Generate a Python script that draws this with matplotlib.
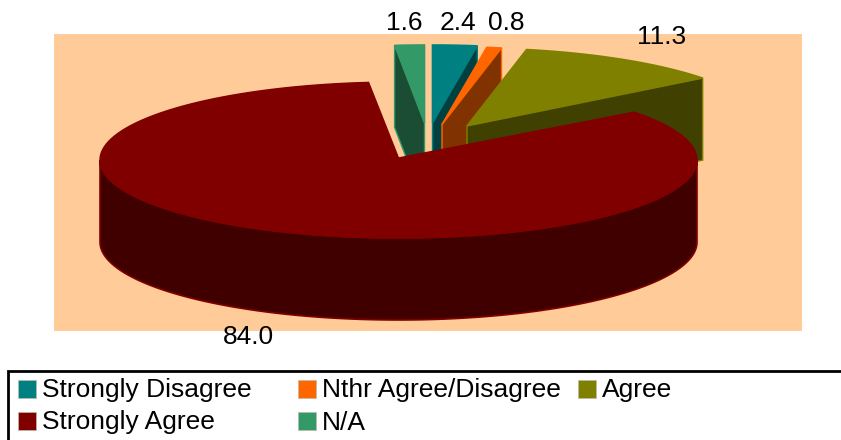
import numpy as np
import matplotlib
matplotlib.use('Agg')
import matplotlib.pyplot as plt
from matplotlib.patches import Polygon, Rectangle

# Survey responses in percent, clockwise from twelve o'clock
categories = ['Strongly Disagree', 'Nthr Agree/Disagree', 'Agree', 'Strongly Agree', 'N/A']
values = [2.4, 0.8, 11.3, 84.0, 1.6]
value_labels = ['2.4', '0.8', '11.3', '84.0', '1.6']

# Colours for the top of each slice and for its darker walls
colors = ['#008080', '#FF6600', '#808000', '#800000', '#339966']
dark_colors = ['#004040', '#803300', '#404000', '#400000', '#1A4D33']

# Pie geometry, in pixels
cx, cy = 398.5, 160
rx, ry = 298.5, 78
depth = 82
# How far each slice is pulled away from the centre
shifts = [(34, -37), (43.5, -35.5), (68.5, -34), (0, -2), (26, -37)]
label_pos = [(458, 22.5), (506, 22.5), (661.5, 36.5), (248.5, 336.5), (404, 22.5)]

plt.rcParams['font.family'] = ['Liberation Sans', 'DejaVu Sans']
font_size = 19

fig = plt.figure(figsize=(8.41, 4.40), dpi=100)
ax = fig.add_axes([0, 0, 1, 1])
ax.set_xlim(0, 841)
ax.set_ylim(440, 0)
ax.axis('off')

# Plot area background
ax.add_patch(Rectangle((54, 34), 748, 297, facecolor='#FFCC99', edgecolor='none', zorder=1))


def arc(x0, y0, a0, a1, dy=0):
    # Angles run clockwise from north, in degrees
    t = np.radians(np.linspace(a0, a1, 200))
    return np.column_stack([x0 + rx * np.sin(t), y0 - ry * np.cos(t) + dy])


# Slice angles from the values
total = sum(values)
edges = np.concatenate([[0], np.cumsum(values)]) / total * 360

# Small exploded slices first, the big one goes over them
order = [4, 0, 1, 2, 3]
z = 2
for i in order:
    a0, a1 = edges[i], edges[i + 1]
    x0, y0 = cx + shifts[i][0], cy + shifts[i][1]
    if i != 3:
        rim = arc(x0, y0, a0, a1)
        # Cut wall: the left one for N/A, the right one otherwise
        if i == 4:
            p = rim[0]
        else:
            p = rim[-1]
        wall = [(x0, y0), tuple(p), (p[0], p[1] + depth), (x0, y0 + depth)]
        ax.add_patch(Polygon(rim.tolist() + [[x0, y0]], closed=True, facecolor=colors[i],
                             edgecolor=colors[i], linewidth=1.2, zorder=z))
        ax.add_patch(Polygon(wall, closed=True, facecolor=dark_colors[i],
                             edgecolor=colors[i], linewidth=1.0, zorder=z + 0.5))
    else:
        # Front wall of the big slice, then its top with the apex just above the ellipse centre
        rim = arc(cx, cy, a0, a1)
        front = arc(cx, cy, 90, 270)
        back = arc(cx, cy, 270, 90, dy=depth)
        ax.add_patch(Polygon(np.vstack([front, back]), closed=True, facecolor=dark_colors[i],
                             edgecolor=colors[i], linewidth=1.2, zorder=z))
        ax.add_patch(Polygon(np.vstack([[[x0, y0]], rim]), closed=True, facecolor=colors[i],
                             edgecolor=colors[i], linewidth=1.0, zorder=z + 0.5))
    z += 1

for lab, (x, y) in zip(value_labels, label_pos):
    ax.text(x, y, lab, fontsize=font_size, color='black', ha='center', va='center', zorder=10)

# Legend box runs off the right and bottom edges
ax.add_patch(Rectangle((8.5, 371), 840, 80, facecolor='white', edgecolor='black', linewidth=2, zorder=10))
legend_pos = [(18, 380), (298, 380), (578, 380), (18, 412), (298, 412)]
for name, col, (x, y) in zip(categories, colors, legend_pos):
    ax.add_patch(Rectangle((x, y), 18, 18, facecolor=col, edgecolor='#BBBBAA', linewidth=0.5, zorder=11))
    ax.text(x + 24, y + 10.5, name, fontsize=font_size, color='black', ha='left', va='center', zorder=11)

fig.savefig('out.png', dpi=100, facecolor='white')
